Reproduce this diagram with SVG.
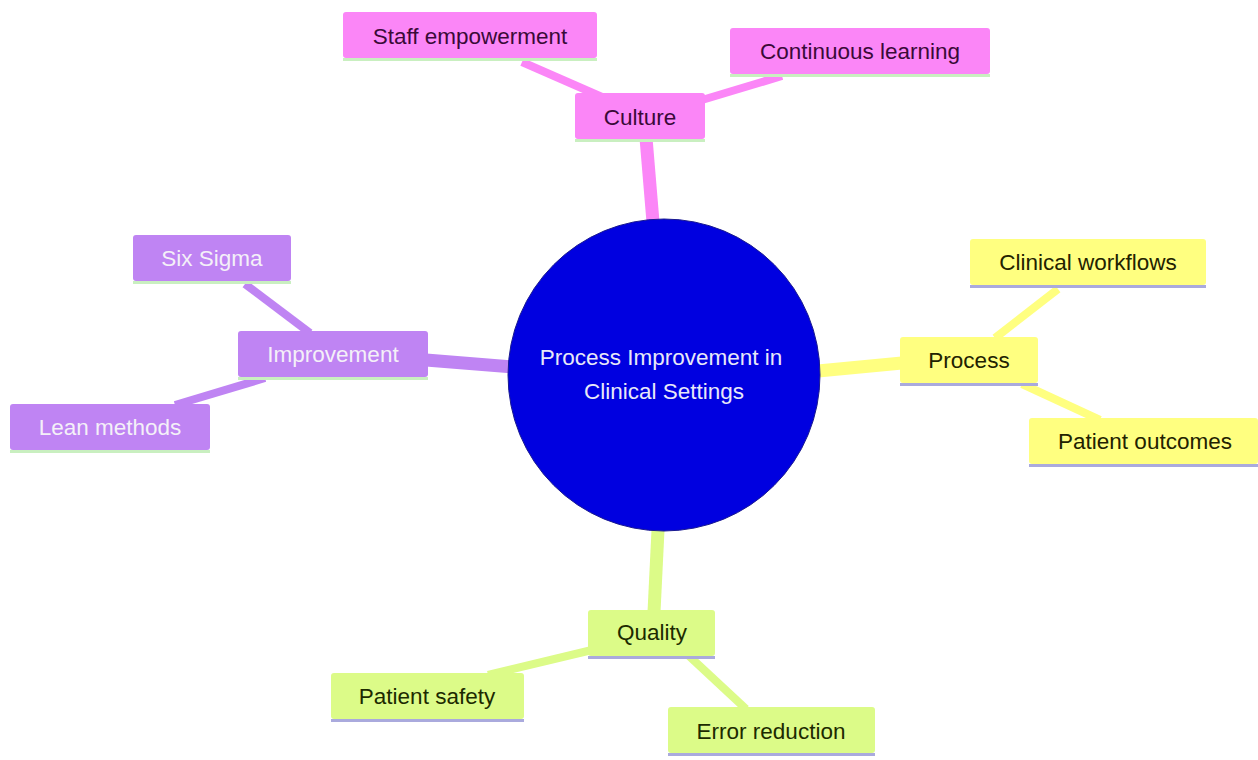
<svg xmlns="http://www.w3.org/2000/svg" width="1258" height="760" viewBox="0 0 1258 760">
<style>
text{font-family:"Liberation Sans",Arial,sans-serif;font-size:22.5px;text-anchor:middle;dominant-baseline:central}
.pk rect.b{fill:#fb86f7}.pk text{fill:#3a0a38}
.pu rect.b{fill:#bf84f3}.pu text{fill:#f4f0f8}
.ye rect.b{fill:#ffff80}.ye text{fill:#222200}
.gr rect.b{fill:#dcfb88}.gr text{fill:#1c2a00}
.ug{fill:#c9efc0}.ul{fill:#aaaadd}
.e{fill:none;stroke-linecap:butt}
</style>
<g id="connectors">
<line class="e" x1="646" y1="138" x2="653" y2="222" stroke="#fb86f7" stroke-width="13"/>
<line class="e" x1="522" y1="62" x2="602" y2="97" stroke="#fb86f7" stroke-width="8"/>
<line class="e" x1="782" y1="76" x2="702" y2="100" stroke="#fb86f7" stroke-width="8"/>
<line class="e" x1="426" y1="360" x2="512" y2="367" stroke="#bf84f3" stroke-width="13"/>
<line class="e" x1="245" y1="284" x2="310" y2="333" stroke="#bf84f3" stroke-width="8"/>
<line class="e" x1="175" y1="405" x2="265" y2="378" stroke="#bf84f3" stroke-width="8"/>
<line class="e" x1="818" y1="371" x2="902" y2="363" stroke="#ffff80" stroke-width="13"/>
<line class="e" x1="1058" y1="289" x2="995" y2="338" stroke="#ffff80" stroke-width="8"/>
<line class="e" x1="1022" y1="384" x2="1100" y2="420" stroke="#ffff80" stroke-width="8"/>
<line class="e" x1="658" y1="530" x2="654" y2="612" stroke="#dcfb88" stroke-width="13"/>
<line class="e" x1="488" y1="675" x2="592" y2="650" stroke="#dcfb88" stroke-width="8"/>
<line class="e" x1="688" y1="655" x2="746" y2="709" stroke="#dcfb88" stroke-width="8"/>
</g>
<g id="root">
<circle cx="664" cy="375" r="156" fill="#0000e0" stroke="#1a1a90" stroke-width="1"/>
<text x="661" y="357" fill="#e8e8f8">Process Improvement in</text>
<text x="664" y="391" fill="#e8e8f8">Clinical Settings</text>
</g>
<g id="culture" class="pk"><rect class="b" x="575" y="93" width="130" height="46" rx="3"/><rect class="ug" x="575" y="139" width="130" height="3"/><text x="640" y="117">Culture</text></g>
<g id="staff-empowerment" class="pk"><rect class="b" x="343" y="12" width="254" height="46" rx="3"/><rect class="ug" x="343" y="58" width="254" height="3"/><text x="470" y="36">Staff empowerment</text></g>
<g id="continuous-learning" class="pk"><rect class="b" x="730" y="28" width="260" height="46" rx="3"/><rect class="ug" x="730" y="74" width="260" height="3"/><text x="860" y="51">Continuous learning</text></g>
<g id="improvement" class="pu"><rect class="b" x="238" y="331" width="190" height="46" rx="3"/><rect class="ug" x="238" y="377" width="190" height="3"/><text x="333" y="354">Improvement</text></g>
<g id="six-sigma" class="pu"><rect class="b" x="133" y="235" width="158" height="46" rx="3"/><rect class="ug" x="133" y="281" width="158" height="3"/><text x="212" y="258">Six Sigma</text></g>
<g id="lean-methods" class="pu"><rect class="b" x="10" y="404" width="200" height="46" rx="3"/><rect class="ug" x="10" y="450" width="200" height="3"/><text x="110" y="427">Lean methods</text></g>
<g id="process" class="ye"><rect class="b" x="900" y="337" width="138" height="46" rx="3"/><rect class="ul" x="900" y="383" width="138" height="3"/><text x="969" y="360">Process</text></g>
<g id="clinical-workflows" class="ye"><rect class="b" x="970" y="239" width="236" height="46" rx="3"/><rect class="ul" x="970" y="285" width="236" height="3"/><text x="1088" y="262">Clinical workflows</text></g>
<g id="patient-outcomes" class="ye"><rect class="b" x="1029" y="418" width="229" height="46" rx="3"/><rect class="ul" x="1029" y="464" width="229" height="3"/><text x="1145" y="441">Patient outcomes</text></g>
<g id="quality" class="gr"><rect class="b" x="588" y="610" width="127" height="46" rx="3"/><rect class="ul" x="588" y="656" width="127" height="3"/><text x="652" y="632">Quality</text></g>
<g id="patient-safety" class="gr"><rect class="b" x="331" y="673" width="193" height="46" rx="3"/><rect class="ul" x="331" y="719" width="193" height="3"/><text x="427" y="696">Patient safety</text></g>
<g id="error-reduction" class="gr"><rect class="b" x="668" y="707" width="207" height="46" rx="3"/><rect class="ul" x="668" y="753" width="207" height="3"/><text x="771" y="731">Error reduction</text></g>
</svg>
